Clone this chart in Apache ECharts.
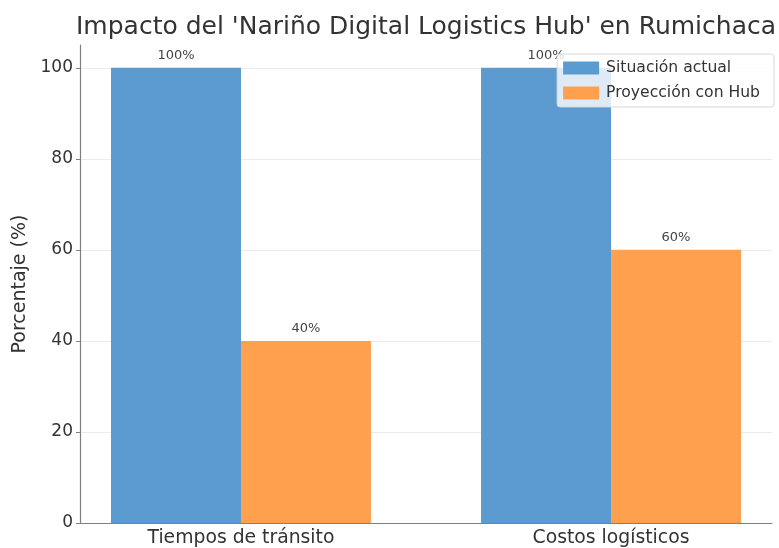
<!DOCTYPE html>
<html>
<head>
<meta charset="utf-8">
<script src="https://cdn.jsdelivr.net/npm/echarts@6/dist/echarts.min.js"></script>
<style>
  html, body { margin: 0; padding: 0; background: #fff; }
  #container { width: 779px; height: 548px; }
</style>
</head>
<body>
<div id="container"></div>
<script>
const categories = ['Tiempos de tránsito', 'Costos logísticos'];
const actual = [100, 100];
const hub = [40, 60];

const font = 'DejaVu Sans';
const chart = echarts.init(document.getElementById('container'), null, { renderer: 'canvas' });

// bars sit on a value axis so the category centres line up like the original
const toPoints = vals => vals.map((v, i) => [i, v]);

const barLabel = {
    show: true,
    position: 'top',
    distance: 6,
    formatter: p => p.value[1] + '%',
    fontFamily: font,
    fontSize: 13,
    color: '#444'
};

const option = {
    animation: false,
    title: {
        text: "Impacto del 'Nariño Digital Logistics Hub' en Rumichaca",
        left: 421,
        textAlign: 'center',
        top: 10,
        textStyle: { fontFamily: font, fontSize: 25, fontWeight: 'normal', color: '#333' }
    },
    legend: {
        orient: 'vertical',
        right: 5,
        top: 54,
        icon: 'rect',
        itemWidth: 36,
        itemHeight: 13,
        itemGap: 9,
        padding: [6, 14, 6, 6],
        backgroundColor: 'rgba(255,255,255,0.8)',
        borderColor: '#d8d8d8',
        borderWidth: 1,
        borderRadius: 3,
        textStyle: { fontFamily: font, fontSize: 15.6, color: '#333', padding: [0, 0, 0, 2] },
        data: ['Situación actual', 'Proyección con Hub']
    },
    grid: { left: 80, right: 7, top: 45, bottom: 25 },
    xAxis: {
        type: 'value',
        min: -0.435,
        max: 1.435,
        axisLine: { onZero: false, lineStyle: { color: '#808080', width: 1.2 } },
        axisTick: { show: false },
        splitLine: { show: false },
        axisLabel: {
            customValues: [0, 1],
            formatter: v => categories[Math.round(v)],
            fontFamily: font,
            fontSize: 18.8,
            color: '#333',
            margin: 6
        }
    },
    yAxis: {
        type: 'value',
        min: 0,
        max: 105,
        interval: 20,
        name: 'Porcentaje (%)',
        nameLocation: 'middle',
        nameGap: 50,
        nameTextStyle: { fontFamily: font, fontSize: 19, color: '#333' },
        axisLine: { show: true, onZero: false, lineStyle: { color: '#808080', width: 1.2 } },
        axisTick: { show: true, length: 4, lineStyle: { color: '#808080' } },
        splitLine: { showMaxLine: false, lineStyle: { color: '#ececec', width: 1 } },
        axisLabel: {
            showMaxLabel: false,
            fontFamily: font,
            fontSize: 17,
            color: '#333',
            margin: 7
        }
    },
    series: [
        {
            name: 'Situación actual',
            type: 'bar',
            barWidth: 130,
            barGap: '0%',
            itemStyle: { color: '#5b9bcf' },
            label: barLabel,
            data: toPoints(actual)
        },
        {
            name: 'Proyección con Hub',
            type: 'bar',
            barWidth: 130,
            barGap: '0%',
            itemStyle: { color: '#ffa04f' },
            label: barLabel,
            data: toPoints(hub)
        }
    ]
};

chart.setOption(option);
window.addEventListener('resize', () => chart.resize());
</script>
</body>
</html>
